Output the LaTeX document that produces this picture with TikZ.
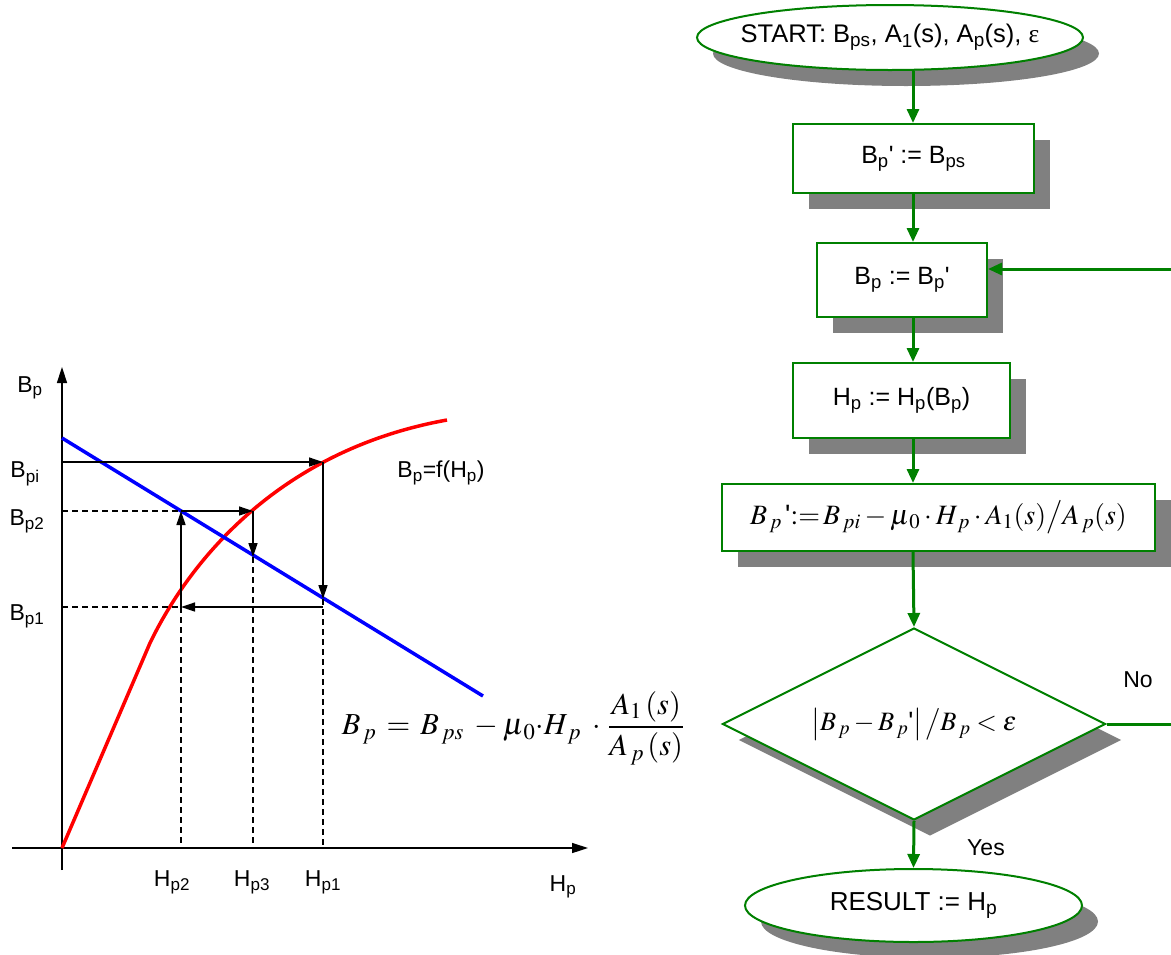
\documentclass[tikz,border=0pt]{standalone}
\usepackage{mathptmx}
\usepackage[no-math]{fontspec}
\setmainfont{Liberation Sans}
\newfontfamily\serifgr{Liberation Serif}
\usetikzlibrary{arrows.meta,shapes.geometric,shadows}
\definecolor{fgreen}{HTML}{008000}
\definecolor{shgray}{HTML}{808080}
\newcommand{\sbs}[1]{\textsubscript{#1}}
\newcommand{\zbox}[1]{\makebox[0pt][c]{#1}}
\begin{document}
\begin{tikzpicture}[x=1pt,y=-1pt,
  flow/.style={draw=fgreen, line width=2pt, fill=white, inner sep=0pt,
    font=\fontsize{25}{30}\selectfont,
    drop shadow={shadow xshift=16pt, shadow yshift=-16pt, fill=shgray, opacity=1}},
  box/.style={flow, rectangle},
  oval/.style={flow, ellipse},
  dia/.style={flow, diamond, aspect=2},
  arr/.style={draw=fgreen, line width=3pt, -{Triangle[length=14pt,width=12pt]}},
  gline/.style={draw=fgreen, line width=3pt},
  lbl/.style={font=\fontsize{23}{27}\selectfont, inner sep=0pt},
  axis/.style={line width=1.5pt, -{Triangle[length=16pt,width=10pt]}},
  garr/.style={line width=1.3pt, -{Triangle[length=14pt,width=9pt]}},
  dsh/.style={line width=1.3pt, dash pattern=on 6pt off 4pt},
  curveR/.style={draw=red, line width=3.5pt, line join=round},
  curveB/.style={draw=blue, line width=3.5pt}]
\useasboundingbox (0,0) rectangle (1171,954);

% ---------------- flowchart ----------------
\coordinate (ax) at (913,0);
\coordinate (rim) at (1171,0);
\coordinate (loopin) at (1171,269);

\node[oval, minimum width=386pt, minimum height=65pt] (st) at (890,37.5)
  {\zbox{\fontsize{25.5}{30}\selectfont START: B\sbs{ps}, A\sbs{1}(s), A\sbs{p}(s), {\serifgr ε}}};
\node[box, minimum width=241pt, minimum height=69pt] (b1) at (913.5,158.5)
  {B\sbs{p}\textquotesingle{} := B\sbs{ps}};
\node[box, minimum width=170pt, minimum height=74pt] (b2) at (902,280)
  {B\sbs{p} := B\sbs{p}\textquotesingle};
\node[box, minimum width=217pt, minimum height=75pt] (b3) at (901.5,400.5)
  {H\sbs{p} := H\sbs{p}(B\sbs{p})};
\node[box, minimum width=433pt, minimum height=67pt] (b4) at (938.5,517.5)
  {\fontsize{28}{32}\selectfont $B_{\,p}\,\mbox{\textquotesingle}{:=}\,B_{\,pi}-\mu_{\,0}\cdot H_{\,p}\cdot A_1(s)\big/A_{\,p}(s)$};
\node[dia, minimum width=383pt, minimum height=192pt] (d) at (914,724)
  {\fontsize{26.5}{30}\selectfont $\left|B_{\,p}-B_{\,p}\mbox{\textquotesingle}\right|\big/B_{\,p}<\varepsilon$};
\node[oval, minimum width=337pt, minimum height=73pt] (res) at (913.5,905.5)
  {\zbox{\fontsize{26}{30}\selectfont RESULT := H\sbs{p}}};

\draw[arr] (st.south -| ax) -- (b1.north -| ax);
\draw[arr] (b1.south -| ax) -- (b2.north -| ax);
\draw[arr] (b2.south -| ax) -- (b3.north -| ax);
\draw[arr] (b3.south -| ax) -- (b4.north -| ax);
\draw[arr] (b4.south -| ax) -- (d.north);
\draw[arr] (d.south) -- (res.north);
\draw[gline] (d.east) -- (d.east -| rim);
\draw[arr] (loopin) -- (loopin -| b2.east);

\node[lbl] (no) at (1138,680) {No};
\node[lbl] (yes) at (986,848) {Yes};

% ---------------- graph ----------------
\draw[axis] (12,848) -- (588,848);
\draw[axis] (62,870) -- (62,367);

\draw[curveR] (62,848) -- (150,643) .. controls (190,560) and (280,450) .. (447,420);
\draw[curveB] (62,438) -- (483,696);

\draw[garr] (62,462) -- (323,462);
\draw[garr] (323,462) -- (323,599);
\draw[garr] (323,607) -- (181,607);
\draw[garr] (181,607) -- (181,511);
\draw[garr] (181,511) -- (253,511);
\draw[garr] (253,511) -- (253,557);

\draw[dsh] (62,511) -- (181,511);
\draw[dsh] (62,607) -- (181,607);
\draw[dsh] (181,607) -- (181,848);
\draw[dsh] (253,557) -- (253,848);
\draw[dsh] (323,599) -- (323,848);

\node[lbl] (lBp) at (30,388) {B\sbs{p}};
\node[lbl] (lBpi) at (25,474) {B\sbs{pi}};
\node[lbl] (lBp2) at (27,521) {B\sbs{p2}};
\node[lbl] (lBp1) at (27,616) {B\sbs{p1}};
\node[lbl] (lf) at (441,473) {B\sbs{p}=f(H\sbs{p})};
\node[lbl] (lH2) at (172,882) {H\sbs{p2}};
\node[lbl] (lH3) at (252,882) {H\sbs{p3}};
\node[lbl] (lH1) at (323,882) {H\sbs{p1}};
\node[lbl] (lH) at (563,887) {H\sbs{p}};

\node[inner sep=0pt, font=\fontsize{30.5}{36}\selectfont] (eq) at (513,728)
  {$B_{\,p}\,=\,B_{\,ps}\;-\mu_{\,0}{\cdot}H_{\,p}\;\cdot\,\displaystyle\frac{A_1\,(s)}{A_{\,p}\,(s)}$};
\end{tikzpicture}
\end{document}
